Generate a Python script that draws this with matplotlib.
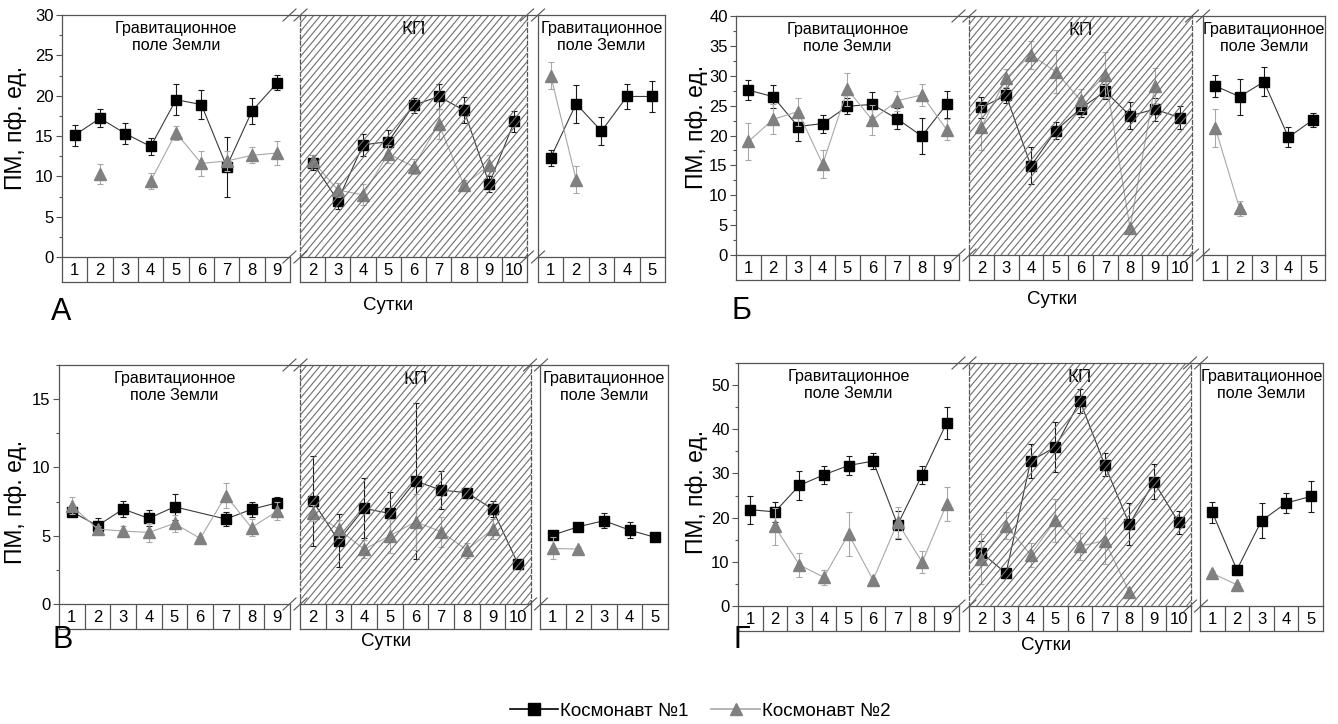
import numpy as np
import matplotlib.pyplot as plt
from matplotlib.lines import Line2D
from matplotlib.collections import LineCollection

plt.rcParams['font.family'] = ['Liberation Sans', 'DejaVu Sans']

W, H = 1338, 724

# сутки по периодам: до полёта, КП, после полёта
DAYS_PRE = [1, 2, 3, 4, 5, 6, 7, 8, 9]
DAYS_KP = [2, 3, 4, 5, 6, 7, 8, 9, 10]
DAYS_POST = [1, 2, 3, 4, 5]

# А
A_C1 = [15.1, 17.2, 15.3, 13.7, 19.5, 18.9, 11.2, 18.1, 21.6,
        11.7, 7.0, 13.9, 14.3, 18.8, 19.9, 18.2, 9.1, 16.8,
        12.3, 19.0, 15.6, 19.9, 19.9]
A_C1_ERR = [1.3, 1.1, 1.3, 1.0, 1.9, 1.85, 3.7, 1.65, 0.95,
            0.9, 1.0, 1.35, 1.4, 0.95, 1.5, 1.6, 1.0, 1.35,
            1.0, 2.35, 1.7, 1.6, 1.9]
A_C2 = [None, 10.3, None, 9.4, 15.4, 11.6, 11.9, 12.6, 12.9,
        11.9, 8.3, 7.7, 12.8, 11.2, 16.5, 8.9, 11.4, None,
        22.5, 9.6, None, None, None]
A_C2_ERR = [None, 1.2, None, 1.0, 0.9, 1.5, 1.2, 1.0, 1.5,
            0.8, 0.9, 1.3, 1.1, 0.95, 1.85, 0.7, 1.25, None,
            1.65, 1.65, None, None, None]

# Б
B_C1 = [27.6, 26.5, 21.5, 22.0, 24.9, 25.2, 22.8, 19.9, 25.2,
        24.7, 26.7, 14.9, 20.8, 24.5, 27.4, 23.3, 24.4, 23.0,
        28.3, 26.5, 29.0, 19.7, 22.6]
B_C1_ERR = [1.7, 1.9, 2.45, 1.5, 1.3, 2.1, 1.75, 2.95, 2.2,
            1.75, 1.25, 3.1, 1.4, 1.45, 1.3, 2.25, 1.9, 1.9,
            1.9, 3.0, 2.4, 1.65, 1.15]
B_C2 = [19.0, 22.7, 24.0, 15.2, 27.7, 22.6, 25.8, 26.8, 21.0,
        21.4, 29.6, 33.5, 30.7, 25.9, 30.1, 4.5, 28.3, None,
        21.3, 7.8, None, None, None]
B_C2_ERR = [3.1, 2.5, 2.35, 2.35, 2.75, 2.55, 1.7, 1.9, 1.7,
            3.75, 1.55, 2.3, 3.55, 1.8, 3.8, 0.3, 3.05, None,
            3.15, 1.2, None, None, None]

# В
V_C1 = [6.76, 5.73, 6.95, 6.27, 7.12, None, 6.22, 6.93, 7.41,
        7.54, 4.63, 7.0, 6.63, 9.0, 8.34, 8.15, 6.95, 2.9,
        5.05, 5.66, 6.1, 5.41, 4.88]
V_C1_ERR = [0.35, 0.55, 0.6, 0.58, 0.95, None, 0.48, 0.55, 0.46,
            3.3, 1.95, 2.2, 1.6, 5.7, 1.4, 0.2, 0.58, 0.15,
            0.2, 0.2, 0.55, 0.58, 0.15]
V_C2 = [7.2, 5.49, 5.34, 5.24, 5.9, 4.8, 7.93, 5.6, 6.8,
        6.68, 5.49, 4.0, 5.0, 6.02, 5.29, 3.95, 5.49, None,
        4.07, 4.02, None, None, None]
V_C2_ERR = [0.6, 0.25, 0.35, 0.7, 0.6, 0.2, 0.9, 0.65, 0.65,
            0.6, 0.67, 0.65, 1.25, 2.05, 1.1, 0.55, 0.7, None,
            0.8, 0.15, None, None, None]

# Г
G_C1 = [21.8, 21.3, 27.3, 29.7, 31.8, 32.8, 18.4, 29.7, 41.5,
        12.1, 7.4, 32.8, 36.0, 46.4, 32.0, 18.5, 28.1, 18.9,
        21.2, 8.2, 19.3, 23.3, 24.8]
G_C1_ERR = [3.2, 2.2, 3.3, 2.0, 2.25, 1.8, 3.15, 2.0, 3.65,
            2.5, 0.5, 3.9, 5.65, 2.65, 2.55, 4.7, 3.95, 2.5,
            2.45, 1.1, 3.9, 2.3, 3.5]
G_C2 = [None, 18.0, 9.3, 6.5, 16.3, 5.9, 18.9, 9.9, 23.1,
        10.6, 18.2, 11.6, 19.4, 13.5, 14.8, 3.1, None, None,
        7.4, 4.8, None, None, None]
G_C2_ERR = [None, 4.2, 2.65, 1.7, 4.9, 0.4, 3.5, 2.5, 3.9,
            5.65, 3.1, 2.7, 4.9, 3.0, 5.2, 0.4, None, None,
            0.6, 0.4, None, None, None]

EARTH = 'Гравитационное\nполе Земли'
FRAME = '#555555'
HATCH = '#6e6e6e'

# расположение панелей в пикселях
PANELS = [
    dict(letter='А', c1=A_C1, e1=A_C1_ERR, c2=A_C2, e2=A_C2_ERR, join1=False,
         ymax=30, major=5, minor=2.5,
         segs=[(62, 290), (300, 527), (538, 665)], top=15, y0=257,
         ylab=(16, 128), let=(61, 312), sut=(388, 306)),
    dict(letter='Б', c1=B_C1, e1=B_C1_ERR, c2=B_C2, e2=B_C2_ERR, join1=False,
         ymax=40, major=5, minor=2.5,
         segs=[(736, 959), (969, 1192), (1203, 1325)], top=16, y0=255,
         ylab=(697, 127), let=(741, 311), sut=(1052, 300)),
    dict(letter='В', c1=V_C1, e1=V_C1_ERR, c2=V_C2, e2=V_C2_ERR, join1=True,
         ymax=17.5, major=5, minor=2.5,
         segs=[(59, 290), (300, 531), (540, 668)], top=365, y0=604,
         ylab=(16, 502), let=(63, 640), sut=(386, 641)),
    dict(letter='Г', c1=G_C1, e1=G_C1_ERR, c2=G_C2, e2=G_C2_ERR, join1=False,
         ymax=55, major=10, minor=5,
         segs=[(738, 959), (969, 1191), (1200, 1323)], top=363, y0=606,
         ylab=(697, 492), let=(742, 640), sut=(1046, 645)),
]
BOX_H = 25


def fx(px):
    return px / W


def fy(py):
    return 1 - py / H


def to_arr(vals):
    return np.array([np.nan if v is None else v for v in vals], dtype=float)


def draw_series(ax, days, vals, errs, kind, join=False):
    x = np.array(days, dtype=float)
    y = to_arr(vals)
    e = to_arr(errs)
    if kind == 1:
        lc, ec, mk, mfc, ms, z = '#3a3a3a', '#1a1a1a', 's', 'black', 7, 3
    else:
        lc, ec, mk, mfc, ms, z = '#a8a8a8', '#a8a8a8', '^', '#808080', 8, 3.5
    ok = ~np.isnan(y)
    if join:
        ax.plot(x[ok], y[ok], color=lc, lw=0.8, zorder=z)
    else:
        ax.plot(x, y, color=lc, lw=0.8, zorder=z)
    ax.errorbar(x[ok], y[ok], yerr=e[ok], fmt='none', ecolor=ec,
                elinewidth=0.8, capsize=2.5, capthick=0.8, zorder=z)
    ax.plot(x[ok], y[ok], ls='none', marker=mk, ms=ms, mfc=mfc, mec=mfc,
            zorder=z + 0.1)


def hatch_lines(ax, w_px, h_px, step=7.0, slope=1.2):
    # наклонная штриховка поверх области КП
    run = h_px / slope
    segs = []
    c = -run
    while c < w_px:
        segs.append([(c / w_px, 0), ((c + run) / w_px, 1)])
        c += step
    lc = LineCollection(segs, transform=ax.transAxes, colors=HATCH,
                        linewidths=0.8, zorder=5)
    ax.add_collection(lc)


def break_mark(fig, x, y):
    for dx in (-5.5, 5.5):
        fig.add_artist(Line2D([fx(x + dx - 6.5), fx(x + dx + 6.5)],
                              [fy(y + 6), fy(y - 6)],
                              transform=fig.transFigure, color=FRAME, lw=0.8))


fig = plt.figure(figsize=(W / 100, H / 100), dpi=100)

for p in PANELS:
    top, y0 = p['top'], p['y0']
    c1, e1 = p['c1'], p['e1']
    c2, e2 = p['c2'], p['e2']
    parts = [(DAYS_PRE, slice(0, 9)), (DAYS_KP, slice(9, 18)),
             (DAYS_POST, slice(18, 23))]
    for k, ((x0, x1), (days, sl)) in enumerate(zip(p['segs'], parts)):
        ax = fig.add_axes([fx(x0), fy(y0), fx(x1 - x0), (y0 - top) / H])
        ax.set_xlim(days[0] - 0.5, days[-1] + 0.5)
        ax.set_ylim(0, p['ymax'])
        ax.set_facecolor('none')
        ax.tick_params(axis='x', bottom=False, labelbottom=False)
        for s in ax.spines.values():
            s.set_color(FRAME)
            s.set_linewidth(0.9)
        ax.spines['bottom'].set_visible(False)
        ax.spines['top'].set_visible(False)

        draw_series(ax, days, c1[sl], e1[sl], 1, join=p['join1'] and k == 0)
        draw_series(ax, days, c2[sl], e2[sl], 2)

        if k == 0:
            ax.spines['right'].set_visible(False)
            ax.set_yticks(np.arange(0, p['ymax'] + 0.01, p['major']))
            ax.set_yticks(np.arange(0, p['ymax'] + 0.01, p['minor']), minor=True)
            ax.tick_params(axis='y', which='major', direction='out', length=4,
                           width=0.8, color=FRAME, labelsize=12, pad=2)
            ax.tick_params(axis='y', which='minor', direction='out', length=2.5,
                           width=0.8, color=FRAME)
        else:
            ax.tick_params(axis='y', which='both', left=False, labelleft=False)
        if k == 1:
            ax.spines['left'].set_linestyle((0, (3, 2)))
            ax.spines['right'].set_linestyle((0, (3, 2)))
            hatch_lines(ax, x1 - x0, y0 - top)
            ax.text(0.5, 1 - 6 / (y0 - top), 'КП', transform=ax.transAxes,
                    ha='center', va='top', fontsize=13.5)
        else:
            ax.text(0.5, 1 - 6 / (y0 - top), EARTH, transform=ax.transAxes,
                    ha='center', va='top', fontsize=11.6, linespacing=1.15)

        # строка с номерами суток под осью
        bx = fig.add_axes([fx(x0), fy(y0 + BOX_H), fx(x1 - x0), BOX_H / H])
        bx.set_xlim(days[0] - 0.5, days[-1] + 0.5)
        bx.set_ylim(0, 1)
        bx.set_xticks([])
        bx.set_yticks([])
        for s in bx.spines.values():
            s.set_color(FRAME)
            s.set_linewidth(0.9)
        for d in days[:-1]:
            bx.axvline(d + 0.5, color=FRAME, lw=0.9)
        for d in days:
            bx.text(d, 0.45, str(d), ha='center', va='center', fontsize=12)

    # верхняя рамка общая для всех периодов
    segs = p['segs']
    fig.add_artist(Line2D([fx(segs[0][0]), fx(segs[-1][1])], [fy(top), fy(top)],
                          transform=fig.transFigure, color=FRAME, lw=0.9))

    # разрывы между периодами
    for (a0, a1), (b0, b1) in zip(segs[:-1], segs[1:]):
        xm = (a1 + b0) / 2
        break_mark(fig, xm, top)
        break_mark(fig, xm, y0)

    fig.text(fx(p['ylab'][0]), fy(p['ylab'][1]), 'ПМ, пф. ед.', rotation=90,
             ha='center', va='center', fontsize=16.5)
    fig.text(fx(p['let'][0]), fy(p['let'][1]), p['letter'], ha='center',
             va='center', fontsize=22)
    fig.text(fx(p['sut'][0]), fy(p['sut'][1]), 'Сутки', ha='center',
             va='center', fontsize=13.5)

handles = [
    Line2D([], [], color='black', lw=1.2, marker='s', ms=8, mfc='black',
           mec='black'),
    Line2D([], [], color='#a8a8a8', lw=1.2, marker='^', ms=9, mfc='#808080',
           mec='#808080'),
]
fig.legend(handles, ['Космонавт №1', 'Космонавт №2'], loc='center',
           bbox_to_anchor=(fx(700), fy(711)), ncol=2, frameon=False,
           fontsize=13.5, handlelength=2.6, handletextpad=0.1, columnspacing=1.2)

fig.savefig('out.png', dpi=100)
